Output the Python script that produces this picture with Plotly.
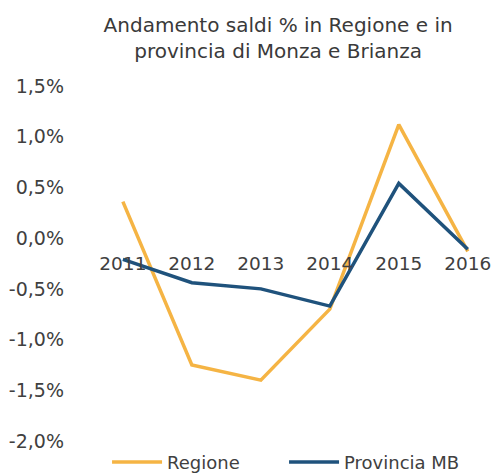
import plotly.graph_objects as go

# Categories and series (saldi %, per anno)
anni = ["2011", "2012", "2013", "2014", "2015", "2016"]
regione = [0.36, -1.25, -1.40, -0.70, 1.12, -0.13]
provincia_mb = [-0.21, -0.44, -0.50, -0.67, 0.54, -0.11]

# Value axis ticks
y_tick_vals = [-2.0, -1.5, -1.0, -0.5, 0.0, 0.5, 1.0, 1.5]
y_tick_text = ["-2,0%", "-1,5%", "-1,0%", "-0,5%", "0,0%", "0,5%", "1,0%", "1,5%"]

y_min, y_max = -2.0, 1.5
font_family = "DejaVu Sans"
text_color = "#404040"

fig = go.Figure()
fig.add_trace(go.Scatter(
    x=list(range(len(anni))), y=regione, name="Regione", mode="lines",
    line=dict(color="#F5B444", width=3.5),
))
fig.add_trace(go.Scatter(
    x=list(range(len(anni))), y=provincia_mb, name="Provincia MB", mode="lines",
    line=dict(color="#1F527C", width=3.5),
))

fig.update_layout(
    width=494, height=475,
    margin=dict(l=87, r=0, t=86, b=34, autoexpand=False),
    paper_bgcolor="white", plot_bgcolor="white",
    font=dict(family=font_family, color=text_color, size=18),
    title=dict(
        text="Andamento saldi % in Regione e in<br>provincia di Monza e Brianza",
        x=0.563, xanchor="center", y=0.932, yanchor="middle",
        font=dict(size=20, color="#3a3a3a"),
    ),
    showlegend=True,
    legend=dict(
        orientation="h", xref="container", x=0.575, xanchor="center",
        yref="container", y=0.027, yanchor="middle",
        font=dict(size=18, color=text_color), itemwidth=50,
        entrywidth=112, entrywidthmode="pixels",
        bgcolor="rgba(0,0,0,0)",
    ),
    xaxis=dict(
        range=[-0.52, 5.38],
        tickvals=list(range(len(anni))), ticktext=anni,
        showgrid=False, zeroline=False, showline=False, ticks="",
        anchor="free", position=(0 - y_min) / (y_max - y_min),
        tickfont=dict(size=18.5, color=text_color), ticklabelstandoff=12,
    ),
    yaxis=dict(
        range=[y_min, y_max],
        tickvals=y_tick_vals, ticktext=y_tick_text,
        showgrid=False, zeroline=False, showline=False, ticks="",
        tickfont=dict(size=19, color=text_color), ticklabelstandoff=22,
    ),
)

fig.write_html("out.html")
